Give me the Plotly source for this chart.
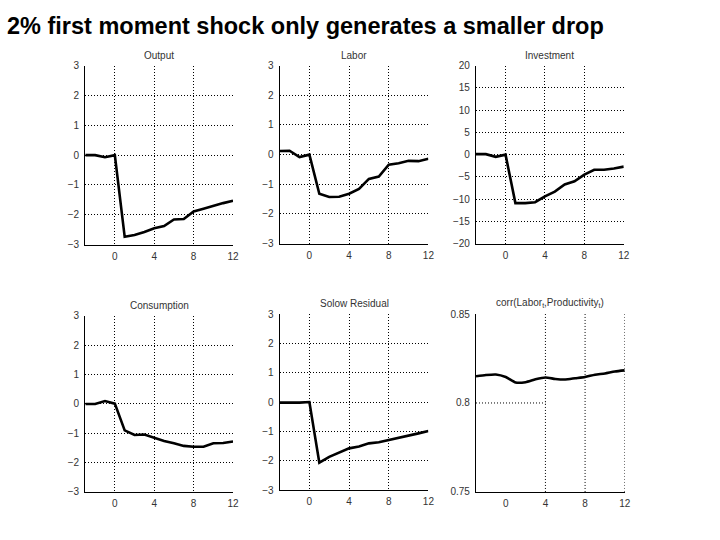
import plotly.graph_objects as go

periods = list(range(-3, 13))

output_vals = [0.0, 0.0, -0.07, 0.0, -2.74, -2.68, -2.58, -2.45, -2.38, -2.16, -2.14, -1.89, -1.80, -1.70, -1.61, -1.53]
labor_vals = [0.12, 0.13, -0.08, 0.0, -1.32, -1.43, -1.42, -1.32, -1.16, -0.82, -0.74, -0.34, -0.29, -0.21, -0.22, -0.14]
invest_vals = [0.1, 0.1, -0.5, 0.0, -10.9, -10.9, -10.7, -9.4, -8.3, -6.7, -6.0, -4.5, -3.4, -3.4, -3.1, -2.7]
consum_vals = [0.0, 0.0, 0.1, 0.01, -0.9, -1.06, -1.04, -1.15, -1.26, -1.34, -1.43, -1.46, -1.46, -1.34, -1.33, -1.28]
solow_vals = [-0.02, -0.03, -0.02, 0.0, -2.07, -1.87, -1.73, -1.58, -1.52, -1.41, -1.37, -1.30, -1.21, -1.15, -1.07, -0.99]
corr_vals = [0.8150, 0.8157, 0.8160, 0.8146, 0.8115, 0.8117, 0.8133, 0.8143, 0.8135, 0.8132, 0.8139, 0.8146, 0.8159, 0.8166, 0.8177, 0.8183]

titles = ["Output", "Labor", "Investment", "Consumption", "Solow Residual",
          "corr(Labor<sub>t</sub>,Productivity<sub>t</sub>)"]
x_ticks = [0, 4, 8, 12]
y_ticks_small = [-3, -2, -1, 0, 1, 2, 3]
y_ticks_inv = [-20, -15, -10, -5, 0, 5, 10, 15, 20]
y_ticks_corr = [0.75, 0.8, 0.85]
y_ticklabels_corr = ["0.75", "0.8", "0.85"]

W, H = 720, 540
# pixel boxes (left, right, top, bottom)
boxes = [
    (86, 235, 61, 244),
    (282, 432, 61, 243),
    (480, 629, 61, 243),
    (86, 235, 317, 497),
    (282, 432, 315, 495),
    (480, 630, 315, 497),
]

series = [output_vals, labor_vals, invest_vals, consum_vals, solow_vals, corr_vals]
yranges = [(-3, 3), (-3, 3), (-20, 20), (-3, 3), (-3, 3), (0.75, 0.85)]
yticks = [y_ticks_small, y_ticks_small, y_ticks_inv, y_ticks_small, y_ticks_small, y_ticks_corr]

FONT = "Liberation Sans, Arial, sans-serif"
DOT = "1px,2px"

fig = go.Figure()
layout = dict(
    width=W, height=H,
    margin=dict(l=0, r=0, t=0, b=0),
    paper_bgcolor="white", plot_bgcolor="white",
    showlegend=False,
    font=dict(family=FONT, color="#222"),
)
annotations = []
tick_font = dict(size=10, color="#333", family=FONT)

for i, (vals, (l, r, t, b)) in enumerate(zip(series, boxes)):
    n = i + 1
    xa = "x" if n == 1 else f"x{n}"
    ya = "y" if n == 1 else f"y{n}"
    fig.add_trace(go.Scatter(
        x=periods, y=vals, mode="lines",
        line=dict(color="black", width=2.6, shape="spline" if i == 5 else "linear", smoothing=0.6),
        xaxis=xa, yaxis=ya, hoverinfo="skip",
    ))
    xkey = "xaxis" if n == 1 else f"xaxis{n}"
    ykey = "yaxis" if n == 1 else f"yaxis{n}"
    layout[xkey] = dict(
        domain=[l / W, r / W], anchor=ya, range=[-3, 12],
        tickvals=x_ticks, ticks="", showline=True, linecolor="black", linewidth=1.2,
        showgrid=(i != 5), gridcolor="black", griddash=DOT, gridwidth=1,
        zeroline=False, tickfont=tick_font, mirror=False, ticklabelstandoff=2,
    )
    ydict = dict(
        domain=[1 - b / H, 1 - t / H], anchor=xa, range=list(yranges[i]),
        tickvals=yticks[i], ticks="", showline=True, linecolor="black", linewidth=1.2,
        showgrid=(i != 5), gridcolor="black", griddash=DOT, gridwidth=1,
        zeroline=False, tickfont=tick_font, mirror=False, ticklabelstandoff=3,
    )
    if i == 5:
        ydict["ticktext"] = y_ticklabels_corr
    else:
        ydict["tickformat"] = "d"
    layout[ykey] = ydict
    annotations.append(dict(
        text=titles[i], x=(l + r) / 2 / W, y=1 - (t - 3) / H, xref="paper", yref="paper",
        xanchor="center", yanchor="bottom", showarrow=False,
        font=dict(size=10, color="#333", family=FONT),
    ))

# corr panel grid lines (partial, as in the original figure)
shapes = []
for xv in [4, 8, 12]:
    shapes.append(dict(type="line", xref="x6", yref="y6", x0=xv, x1=xv, y0=0.75, y1=0.85,
                       line=dict(color="black", width=1, dash=DOT), layer="below"))
shapes.append(dict(type="line", xref="x6", yref="y6", x0=-3, x1=4, y0=0.8, y1=0.8,
                   line=dict(color="black", width=1, dash=DOT), layer="below"))

annotations.append(dict(
    text="<b>2% first moment shock only generates a smaller drop</b>",
    x=5 / W, y=1 - 20 / H, xref="paper", yref="paper", xanchor="left", yanchor="middle",
    showarrow=False, font=dict(size=23.5, color="black", family=FONT),
))
layout["annotations"] = annotations
layout["shapes"] = shapes
fig.update_layout(**layout)
fig.write_html("out.html", config={"displayModeBar": False})

with open("out.html", "r", encoding="utf-8") as f:
    html = f.read()
html = html.replace("<head>", "<head><style>html,body{margin:0;padding:0;overflow:hidden;}</style>", 1)
with open("out.html", "w", encoding="utf-8") as f:
    f.write(html)
